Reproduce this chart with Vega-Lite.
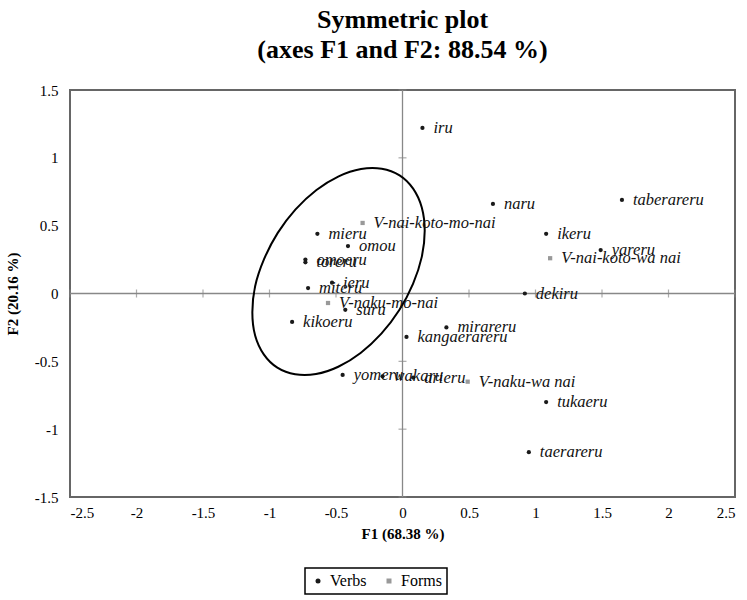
{
  "$schema": "https://vega.github.io/schema/vega-lite/v6.json",
  "width": 665,
  "height": 407,
  "autosize": {"type": "none"},
  "padding": {"left": 70, "top": 90, "right": 12, "bottom": 103},
  "background": "white",
  "title": {
    "text": ["Symmetric plot", "(axes F1 and F2: 88.54 %)"],
    "font": "Times New Roman, Liberation Serif, DejaVu Serif, serif",
    "fontSize": 26,
    "fontWeight": "bold",
    "lineHeight": 30,
    "offset": 20,
    "anchor": "middle",
    "color": "black"
  },
  "config": {
    "font": "Times New Roman, Liberation Serif, DejaVu Serif, serif",
    "view": {"stroke": "#666", "strokeWidth": 2},
    "axis": {
      "grid": false,
      "ticks": false,
      "domain": false,
      "labelFont": "Times New Roman, Liberation Serif, DejaVu Serif, serif",
      "labelFontSize": 15,
      "labelColor": "black",
      "titleFont": "Times New Roman, Liberation Serif, DejaVu Serif, serif",
      "titleFontSize": 15,
      "titleFontWeight": "bold",
      "titleColor": "black",
      "labelExpr": "'' + datum.value"
    },
    "legend": {
      "orient": "none",
      "legendX": 235,
      "legendY": 478,
      "direction": "horizontal",
      "strokeColor": "black",
      "strokeWidth": 1.5,
      "padding": 5,
      "labelFont": "Times New Roman, Liberation Serif, DejaVu Serif, serif",
      "labelFontSize": 16,
      "labelColor": "black",
      "symbolSize": 25,
      "columnPadding": 14,
      "labelOffset": 4
    }
  },
  "datasets": {
    "points": [
      {"label": "iru", "F1": 0.15, "F2": 1.22, "type": "Verbs"},
      {"label": "naru", "F1": 0.68, "F2": 0.66, "type": "Verbs"},
      {"label": "taberareru", "F1": 1.65, "F2": 0.69, "type": "Verbs"},
      {"label": "ikeru", "F1": 1.08, "F2": 0.44, "type": "Verbs"},
      {"label": "yareru", "F1": 1.49, "F2": 0.32, "type": "Verbs"},
      {"label": "V-nai-koto-wa nai", "F1": 1.11, "F2": 0.26, "type": "Forms"},
      {"label": "dekiru", "F1": 0.92, "F2": 0.0, "type": "Verbs"},
      {"label": "mirareru", "F1": 0.33, "F2": -0.25, "type": "Verbs"},
      {"label": "kangaerareru", "F1": 0.03, "F2": -0.32, "type": "Verbs"},
      {"label": "yomeru", "F1": -0.45, "F2": -0.6, "type": "Verbs"},
      {"label": "wakaru", "F1": -0.15, "F2": -0.61, "type": "Verbs"},
      {"label": "arieru", "F1": 0.08, "F2": -0.62, "type": "Verbs"},
      {"label": "V-naku-wa nai", "F1": 0.49, "F2": -0.65, "type": "Forms"},
      {"label": "tukaeru", "F1": 1.08, "F2": -0.8, "type": "Verbs"},
      {"label": "taerareru", "F1": 0.95, "F2": -1.17, "type": "Verbs"},
      {"label": "V-nai-koto-mo-nai", "F1": -0.3, "F2": 0.52, "type": "Forms"},
      {"label": "mieru", "F1": -0.64, "F2": 0.44, "type": "Verbs"},
      {"label": "omou", "F1": -0.41, "F2": 0.35, "type": "Verbs"},
      {"label": "omoeru", "F1": -0.73, "F2": 0.25, "type": "Verbs"},
      {"label": "toreru", "F1": -0.73, "F2": 0.23, "type": "Verbs"},
      {"label": "ieru", "F1": -0.53, "F2": 0.08, "type": "Verbs"},
      {"label": "miteru", "F1": -0.71, "F2": 0.04, "type": "Verbs"},
      {"label": "V-naku-mo-nai", "F1": -0.56, "F2": -0.07, "type": "Forms"},
      {"label": "suru", "F1": -0.43, "F2": -0.12, "type": "Verbs"},
      {"label": "kikoeru", "F1": -0.83, "F2": -0.21, "type": "Verbs"}
    ],
    "ellipse": [
      {"o": 0, "F1": -0.022, "F2": 0.871},
      {"o": 1, "F1": 0.08, "F2": 0.773},
      {"o": 2, "F1": 0.145, "F2": 0.634},
      {"o": 3, "F1": 0.167, "F2": 0.462},
      {"o": 4, "F1": 0.145, "F2": 0.27},
      {"o": 5, "F1": 0.079, "F2": 0.071},
      {"o": 6, "F1": -0.024, "F2": -0.122},
      {"o": 7, "F1": -0.159, "F2": -0.296},
      {"o": 8, "F1": -0.315, "F2": -0.438},
      {"o": 9, "F1": -0.483, "F2": -0.54},
      {"o": 10, "F1": -0.65, "F2": -0.594},
      {"o": 11, "F1": -0.807, "F2": -0.596},
      {"o": 12, "F1": -0.941, "F2": -0.547},
      {"o": 13, "F1": -1.043, "F2": -0.449},
      {"o": 14, "F1": -1.108, "F2": -0.31},
      {"o": 15, "F1": -1.129, "F2": -0.138},
      {"o": 16, "F1": -1.108, "F2": 0.054},
      {"o": 17, "F1": -1.041, "F2": 0.253},
      {"o": 18, "F1": -0.938, "F2": 0.447},
      {"o": 19, "F1": -0.804, "F2": 0.62},
      {"o": 20, "F1": -0.647, "F2": 0.763},
      {"o": 21, "F1": -0.48, "F2": 0.864},
      {"o": 22, "F1": -0.312, "F2": 0.918},
      {"o": 23, "F1": -0.156, "F2": 0.92}
    ],
    "xticks": [
      {"v": -2.5}, {"v": -2}, {"v": -1.5}, {"v": -1}, {"v": -0.5}, {"v": 0.5}, {"v": 1}, {"v": 1.5}, {"v": 2}, {"v": 2.5}
    ],
    "yticks": [
      {"v": -1.5}, {"v": -1}, {"v": -0.5}, {"v": 0.5}, {"v": 1}, {"v": 1.5}
    ],
    "zero": [{"v": 0}]
  },
  "layer": [
    {
      "data": {"name": "zero"},
      "mark": {"type": "rule", "color": "#888", "strokeWidth": 1.3},
      "encoding": {
        "x": {"field": "v", "type": "quantitative", "scale": {"domain": [-2.5, 2.5], "nice": false}, "axis": {"values": [-2.5, -2, -1.5, -1, -0.5, 0, 0.5, 1, 1.5, 2, 2.5], "title": "F1 (68.38 %)", "labelPadding": 8, "titlePadding": 6}}
      }
    },
    {
      "data": {"name": "zero"},
      "mark": {"type": "rule", "color": "#888", "strokeWidth": 1.3},
      "encoding": {
        "y": {"field": "v", "type": "quantitative", "scale": {"domain": [-1.5, 1.5], "nice": false}, "axis": {"values": [-1.5, -1, -0.5, 0, 0.5, 1, 1.5], "title": "F2 (20.16 %)", "labelPadding": 12, "titlePadding": 14}}
      }
    },
    {
      "data": {"name": "xticks"},
      "mark": {"type": "tick", "orient": "vertical", "color": "#888", "size": 8, "thickness": 1.2},
      "encoding": {
        "x": {"field": "v", "type": "quantitative"},
        "y": {"datum": 0, "type": "quantitative"}
      }
    },
    {
      "data": {"name": "yticks"},
      "mark": {"type": "tick", "orient": "horizontal", "color": "#888", "size": 8, "thickness": 1.2},
      "encoding": {
        "y": {"field": "v", "type": "quantitative"},
        "x": {"datum": 0, "type": "quantitative"}
      }
    },
    {
      "data": {"name": "ellipse"},
      "mark": {"type": "line", "interpolate": "cardinal-closed", "color": "black", "strokeWidth": 2},
      "encoding": {
        "x": {"field": "F1", "type": "quantitative"},
        "y": {"field": "F2", "type": "quantitative"},
        "order": {"field": "o", "type": "quantitative"}
      }
    },
    {
      "data": {"name": "points"},
      "mark": {"type": "point", "filled": true, "opacity": 1},
      "encoding": {
        "x": {"field": "F1", "type": "quantitative"},
        "y": {"field": "F2", "type": "quantitative"},
        "color": {"field": "type", "type": "nominal", "scale": {"domain": ["Verbs", "Forms"], "range": ["#1a1a1a", "#999999"]}, "legend": {"title": null}},
        "shape": {"field": "type", "type": "nominal", "scale": {"domain": ["Verbs", "Forms"], "range": ["circle", "square"]}, "legend": {"title": null}},
        "size": {"value": 18}
      }
    },
    {
      "data": {"name": "points"},
      "mark": {"type": "text", "align": "left", "baseline": "middle", "dx": 11, "font": "Times New Roman, Liberation Serif, DejaVu Serif, serif", "fontStyle": "italic", "fontSize": 16.5, "color": "#111"},
      "encoding": {
        "x": {"field": "F1", "type": "quantitative"},
        "y": {"field": "F2", "type": "quantitative"},
        "text": {"field": "label"}
      }
    }
  ]
}
